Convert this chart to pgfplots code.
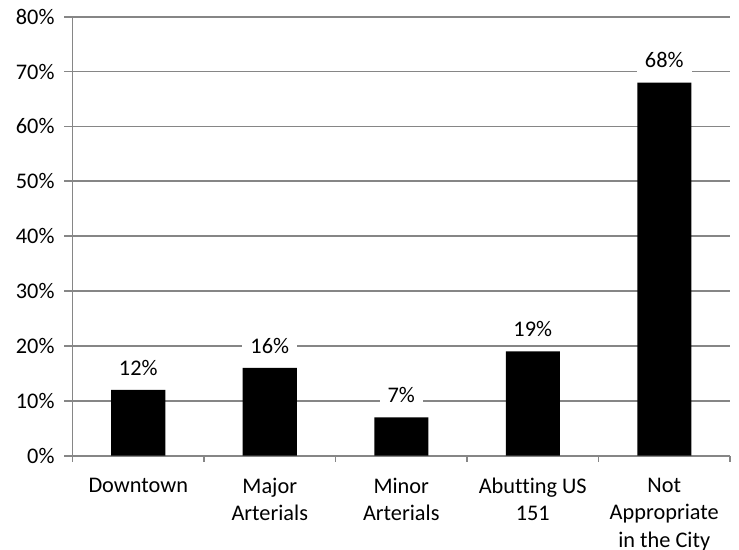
\documentclass[border=0pt]{standalone}
\usepackage{pgfplots}
\pgfplotsset{compat=1.18}
\usepackage{fontspec}
\setmainfont{Carlito}[Ligatures=NoCommon]

\definecolor{gridgray}{RGB}{134,134,134}

\begin{document}
\begin{tikzpicture}
\useasboundingbox (-36.25bp,-47.15bp) rectangle (333.25bp,227.85bp);
\begin{axis}[
  at={(0,0)}, anchor=south west,
  scale only axis,
  width=328.75bp, height=219.5bp,
  xmin=-0.5, xmax=4.5, ymin=0, ymax=80,
  axis x line*=bottom, axis y line*=left,
  axis line style={gridgray, line width=0.9bp, -},
  tick align=outside,
  xtick={0,1,2,3,4},
  xticklabels={Downtown, Major\\Arterials, Minor\\Arterials, Abutting US\\151, Not\\Appropriate\\in the City},
  x tick label style={align=center, font=\fontsize{11.2}{13.8}\selectfont, text=black, yshift=-3.5bp},
  major x tick style={draw=none},
  minor xtick={-0.5,0.5,1.5,2.5,3.5,4.5},
  minor x tick style={gridgray, line width=0.9bp},
  minor tick length=3bp,
  major tick length=4bp,
  ytick={0,10,20,30,40,50,60,70,80},
  yticklabels={0\%,10\%,20\%,30\%,40\%,50\%,60\%,70\%,80\%},
  y tick label style={font=\fontsize{11.2}{13}\selectfont, text=black, xshift=-1.5bp},
  y tick style={gridgray, line width=0.9bp},
  ymajorgrids,
  grid style={gridgray, line width=0.9bp},
  ybar, bar width=27bp,
  point meta=explicit symbolic,
  nodes near coords,
  every node near coord/.append style={fill=white, inner xsep=4bp, inner ysep=3bp,
    font=\fontsize{11.2}{13}\selectfont, text=black, anchor=south, yshift=4bp},
]
\addplot[fill=black, draw=none] coordinates {
  (0,12) [12\%]
  (1,16) [16\%]
  (2,7) [7\%]
  (3,19) [19\%]
  (4,68) [68\%]
};
\end{axis}
\end{tikzpicture}
\end{document}
